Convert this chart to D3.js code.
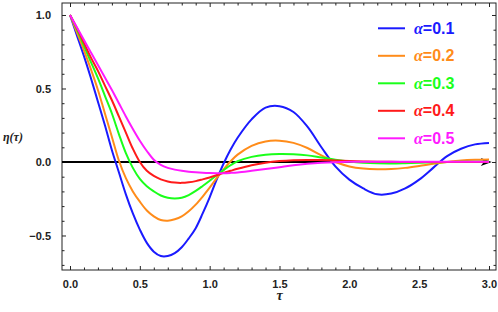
<!doctype html>
<html lang="en">
<head>
  <meta charset="utf-8">
  <title>eta(tau) for several alpha</title>
  <script type="text/javascript" src="https://cdnjs.cloudflare.com/ajax/libs/d3/7.8.5/d3.min.js"></script>
  <style>
    body { margin: 0; background: #fff; }
    .tick text { font-family: 'Liberation Sans', Arial, sans-serif; font-weight: bold; font-size: 11px; fill: #222; }
  </style>
</head>
<body>
	<svg width="498" height="312" id="svg"></svg>

<script type="text/javascript">

	// values: tau step 0.05 up to 1.2, then 0.1
	var tau = [0.0, 0.05, 0.1, 0.15, 0.2, 0.25, 0.3, 0.35, 0.4, 0.45, 0.5, 0.55, 0.6, 0.65, 0.7, 0.75,
		0.8, 0.85, 0.9, 0.95, 1.0, 1.05, 1.1, 1.15, 1.2,
		1.3, 1.4, 1.5, 1.6, 1.7, 1.8, 1.9, 2.0, 2.1, 2.2, 2.3, 2.4, 2.5, 2.6, 2.7, 2.8, 2.9, 3.0];

	var eta01 = [1.00, 0.86, 0.72, 0.57, 0.41, 0.25, 0.08, -0.07, -0.22, -0.35, -0.46, -0.55, -0.61, -0.64, -0.64, -0.62,
		-0.58, -0.52, -0.45, -0.35, -0.24, -0.12, -0.01, 0.085, 0.165,
		0.29, 0.37, 0.38, 0.34, 0.24, 0.10, -0.03, -0.12, -0.18, -0.22, -0.215, -0.18, -0.12, -0.04, 0.04, 0.09, 0.12, 0.13];

	var eta02 = [1.00, 0.88, 0.76, 0.63, 0.49, 0.33, 0.17, 0.01, -0.11, -0.20, -0.27, -0.33, -0.37, -0.395, -0.40, -0.39,
		-0.37, -0.335, -0.29, -0.235, -0.175, -0.11, -0.05, 0.005, 0.05,
		0.11, 0.14, 0.145, 0.13, 0.095, 0.045, 0.00, -0.03, -0.045, -0.05, -0.048, -0.04, -0.027, -0.012, 0.00, 0.01, 0.015, 0.017];

	var eta03 = [1.00, 0.90, 0.79, 0.68, 0.57, 0.45, 0.33, 0.19, 0.06, -0.04, -0.115, -0.165, -0.20, -0.228, -0.243, -0.248,
		-0.243, -0.225, -0.197, -0.163, -0.127, -0.09, -0.055, -0.022, 0.005,
		0.035, 0.05, 0.055, 0.053, 0.045, 0.03, 0.015, 0.003, -0.005, -0.009, -0.01, -0.008, -0.005, -0.002, 0.00, 0.001, 0.002, 0.002];

	var eta04 = [1.00, 0.91, 0.81, 0.71, 0.62, 0.52, 0.42, 0.31, 0.20, 0.09, 0.00, -0.06, -0.095, -0.118, -0.132, -0.14,
		-0.142, -0.138, -0.13, -0.118, -0.105, -0.09, -0.074, -0.06, -0.046,
		-0.022, -0.005, 0.006, 0.012, 0.014, 0.013, 0.01, 0.007, 0.004, 0.002, 0.001, 0.00, 0.00, 0.00, 0.00, 0.00, 0.00, 0.00];

	var eta05 = [1.00, 0.915, 0.83, 0.745, 0.66, 0.575, 0.49, 0.40, 0.31, 0.225, 0.145, 0.075, 0.015, -0.02, -0.04, -0.052,
		-0.06, -0.066, -0.07, -0.073, -0.075, -0.076, -0.076, -0.074, -0.071,
		-0.06, -0.048, -0.035, -0.022, -0.012, -0.005, -0.001, 0.001, 0.002, 0.002, 0.002, 0.002, 0.002, 0.002, 0.002, 0.002, 0.002, 0.002];

	var alphas = ['0.1', '0.2', '0.3', '0.4', '0.5'];
	var xTickValues = [0, 0.5, 1, 1.5, 2, 2.5, 3];
	var yTickValues = [-0.5, 0, 0.5, 1];

	var series = [eta01, eta02, eta03, eta04, eta05];
	var colors = ['#1a1aff', '#ff8c1a', '#1aff1a', '#ff1a1a', '#ff1aff'];

	var svg = d3.select('#svg');
	var frameL = 62, frameR = 496, frameT = 3, frameB = 270;

	var x = d3.scaleLinear()
		.domain([-0.0573, 3.0501])
		.range([frameL, frameR]);

	var y = d3.scaleLinear()
		.domain([-0.7347, 1.0816])
		.range([frameB, frameT]);

	var fmt = d3.format('.1f');
	var xMinor = d3.range(0, 3.001, 0.1).filter(function(v) { return Math.abs(v * 2 - Math.round(v * 2)) > 1e-6; });
	var yMinor = d3.range(-0.7, 1.001, 0.1).filter(function(v) { return Math.abs(v * 2 - Math.round(v * 2)) > 1e-6; });

	function styleAxis(g) {
		g.select('.domain').remove();
		g.selectAll('.tick line').attr('stroke', '#222');
	}

	// bottom axis with labels
	svg.append('g')
		.attr('transform', 'translate(0,' + frameB + ')')
		.call(d3.axisBottom(x).tickValues(xTickValues).tickFormat(fmt).tickSize(-4).tickPadding(10))
		.call(styleAxis);
	svg.append('g')
		.attr('transform', 'translate(0,' + frameB + ')')
		.call(d3.axisBottom(x).tickValues(xMinor).tickFormat('').tickSize(-2.5))
		.call(styleAxis);

	// top axis
	svg.append('g')
		.attr('transform', 'translate(0,' + frameT + ')')
		.call(d3.axisTop(x).tickValues(xTickValues).tickFormat('').tickSize(-4))
		.call(styleAxis);
	svg.append('g')
		.attr('transform', 'translate(0,' + frameT + ')')
		.call(d3.axisTop(x).tickValues(xMinor).tickFormat('').tickSize(-2.5))
		.call(styleAxis);

	// left axis with labels
	svg.append('g')
		.attr('transform', 'translate(' + frameL + ',0)')
		.call(d3.axisLeft(y).tickValues(yTickValues).tickFormat(fmt).tickSize(-4).tickPadding(11))
		.call(styleAxis);
	svg.append('g')
		.attr('transform', 'translate(' + frameL + ',0)')
		.call(d3.axisLeft(y).tickValues(yMinor).tickFormat('').tickSize(-2.5))
		.call(styleAxis);

	// right axis
	svg.append('g')
		.attr('transform', 'translate(' + frameR + ',0)')
		.call(d3.axisRight(y).tickValues(yTickValues).tickFormat('').tickSize(-4))
		.call(styleAxis);
	svg.append('g')
		.attr('transform', 'translate(' + frameR + ',0)')
		.call(d3.axisRight(y).tickValues(yMinor).tickFormat('').tickSize(-2.5))
		.call(styleAxis);

	// frame
	svg.append('rect')
		.attr('x', frameL)
		.attr('y', frameT)
		.attr('width', frameR - frameL)
		.attr('height', frameB - frameT)
		.attr('fill', 'none')
		.attr('stroke', '#222')
		.attr('stroke-width', 1);

	// zero axis with arrow
	var tip = x(3.02);
	svg.append('line')
		.attr('x1', frameL)
		.attr('x2', tip - 6)
		.attr('y1', y(0))
		.attr('y2', y(0))
		.attr('stroke', '#000')
		.attr('stroke-width', 2);
	svg.append('path')
		.attr('d', 'M' + tip + ',' + y(0) + 'L' + (tip - 11) + ',' + (y(0) - 4) + 'L' + (tip - 8) + ',' + y(0) + 'L' + (tip - 11) + ',' + (y(0) + 4) + 'Z')
		.attr('fill', '#000');

	var line = d3.line()
		.x(function(d, i) { return x(tau[i]); })
		.y(function(d) { return y(d); })
		.curve(d3.curveCatmullRom);

	svg.selectAll('path.curve')
		.data(series)
		.enter()
		.append('path')
		.attr('class', 'curve')
		.attr('d', line)
		.attr('fill', 'none')
		.attr('stroke', function(d, i) { return colors[i]; })
		.attr('stroke-width', 2);

	// legend
	var legend = svg.selectAll('g.legend')
		.data(alphas)
		.enter()
		.append('g')
		.attr('class', 'legend')
		.attr('transform', function(d, i) { return 'translate(378,' + (28.3 + i * 27.5) + ')'; });

	legend.append('line')
		.attr('x1', 0)
		.attr('x2', 27)
		.attr('stroke', function(d, i) { return colors[i]; })
		.attr('stroke-width', 2);

	var lt = legend.append('text')
		.attr('x', 36)
		.attr('y', 5.5)
		.attr('fill', function(d, i) { return colors[i]; })
		.style('font-family', "'Liberation Sans', Arial, sans-serif")
		.style('font-weight', 'bold')
		.style('font-size', '16px');
	lt.append('tspan')
		.style('font-family', "'Liberation Serif', 'Times New Roman', serif")
		.style('font-style', 'italic')
		.text('α');
	lt.append('tspan')
		.text(function(d) { return '=' + d; });

	// axis titles
	svg.append('text')
		.attr('x', 3)
		.attr('y', 141)
		.style('font-family', "'Liberation Serif', 'Times New Roman', serif")
		.style('font-style', 'italic')
		.style('font-weight', 'bold')
		.style('font-size', '12px')
		.attr('fill', '#222')
		.text('η(τ)');

	svg.append('text')
		.attr('x', x(1.5))
		.attr('y', 300)
		.attr('text-anchor', 'middle')
		.style('font-family', "'Liberation Serif', 'Times New Roman', serif")
		.style('font-style', 'italic')
		.style('font-weight', 'bold')
		.style('font-size', '14px')
		.attr('fill', '#222')
		.text('τ');

</script>
</body>
</html>
